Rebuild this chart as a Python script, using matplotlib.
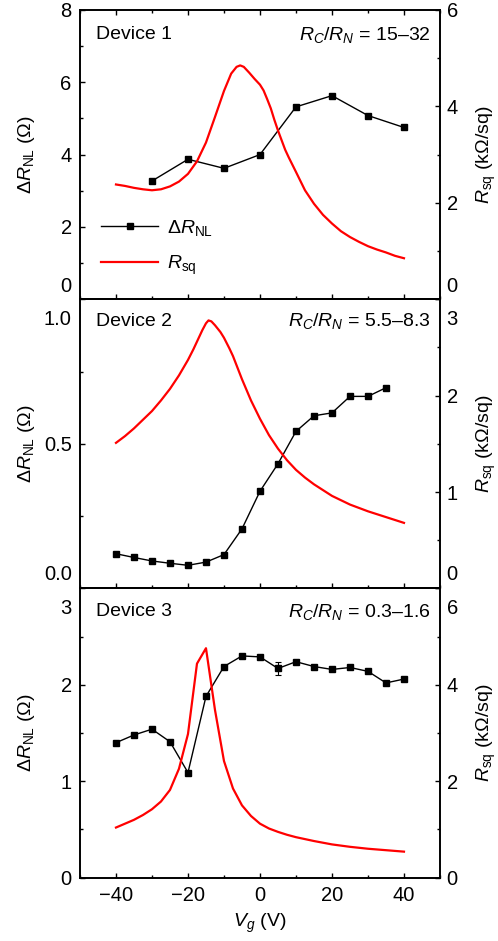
import numpy as np
import matplotlib
matplotlib.use("Agg")
import matplotlib.pyplot as plt
from matplotlib.ticker import MultipleLocator
from matplotlib.lines import Line2D

plt.rcParams["font.family"] = ["Liberation Sans", "DejaVu Sans"]
plt.rcParams["mathtext.fontset"] = "custom"
plt.rcParams["mathtext.rm"] = "Liberation Sans"
plt.rcParams["mathtext.it"] = "Liberation Sans:italic"
plt.rcParams["mathtext.bf"] = "Liberation Sans:bold"

# Device 1 : non-local signal and sheet resistance vs gate voltage
vg_nl1 = [-30, -20, -10, 0, 10, 20, 30, 40]
dR_nl1 = [3.27, 3.87, 3.62, 4.00, 5.32, 5.63, 5.08, 4.75]
vg_sq1 = [-40, -37.5, -35, -32.5, -30, -27.5, -25, -22.5, -20, -17.5, -15, -12.5, -10, -8,
          -6.5, -5.5, -4.5, -3, -1.5, 0, 1, 2, 3, 4, 5, 6, 7, 8, 9, 10, 12.5, 15, 17.5,
          20, 22.5, 25, 27.5, 30, 32.5, 35, 37.5, 40]
r_sq1 = [2.38, 2.35, 2.31, 2.28, 2.26, 2.28, 2.34, 2.44, 2.60, 2.86, 3.25, 3.78, 4.32, 4.68,
         4.82, 4.85, 4.82, 4.70, 4.57, 4.45, 4.33, 4.15, 3.96, 3.72, 3.50, 3.30, 3.10, 2.94,
         2.79, 2.64, 2.26, 1.98, 1.75, 1.57, 1.41, 1.29, 1.19, 1.10, 1.03, 0.97, 0.90, 0.85]

# Device 2
vg_nl2 = [-40, -35, -30, -25, -20, -15, -10, -5, 0, 5, 10, 15, 20, 25, 30, 35]
dR_nl2 = [0.120, 0.107, 0.095, 0.087, 0.080, 0.091, 0.117, 0.206, 0.336, 0.431, 0.543,
          0.597, 0.607, 0.664, 0.664, 0.694]
vg_sq2 = [-40, -37.5, -35, -32.5, -30, -27.5, -25, -22.5, -20, -18.5, -17, -16, -15, -14.3,
          -13.5, -12.5, -11, -10, -8.5, -7.5, -5, -2.5, 0, 2.5, 5, 7.5, 10, 12.5, 15, 20,
          25, 30, 35, 40]
r_sq2 = [1.51, 1.58, 1.66, 1.75, 1.84, 1.95, 2.07, 2.21, 2.37, 2.48, 2.60, 2.68, 2.75, 2.78,
         2.77, 2.73, 2.66, 2.60, 2.49, 2.41, 2.17, 1.95, 1.76, 1.59, 1.45, 1.33, 1.23, 1.15,
         1.08, 0.96, 0.87, 0.80, 0.74, 0.68]

# Device 3
vg_nl3 = [-40, -35, -30, -25, -20, -15, -10, -5, 0, 5, 10, 15, 20, 25, 30, 35, 40]
dR_nl3 = [1.40, 1.48, 1.54, 1.41, 1.09, 1.88, 2.19, 2.30, 2.29, 2.17, 2.24, 2.19, 2.16,
          2.18, 2.14, 2.02, 2.06]
dR_err3 = [0, 0, 0, 0, 0, 0, 0, 0, 0, 0.07, 0, 0, 0, 0, 0, 0, 0]
vg_sq3 = [-40, -37.5, -35, -32.5, -30, -27.5, -25, -22.5, -20, -17.5, -15, -12.5, -10, -7.5,
          -5, -2.5, 0, 2.5, 5, 7.5, 10, 15, 20, 25, 30, 35, 40]
r_sq3 = [1.04, 1.12, 1.20, 1.30, 1.42, 1.58, 1.82, 2.26, 2.98, 4.44, 4.76, 3.48, 2.42, 1.85,
         1.50, 1.28, 1.12, 1.02, 0.95, 0.89, 0.84, 0.76, 0.69, 0.64, 0.60, 0.57, 0.54]

devices = ["Device 1", "Device 2", "Device 3"]
ratios = ["15\u201332", "5.5\u20138.3", "0.3\u20131.6"]

FS = 14.5
TXT = 14


def style_axis(ax, side):
    ax.tick_params(axis="both", which="both", direction="in", labelsize=FS, width=1.0)
    ax.tick_params(which="major", length=3.8)
    ax.tick_params(which="minor", length=2.2)
    ax.tick_params(axis="y", pad=6 if side == "left" else 4.8)
    ax.tick_params(axis="x", pad=6)
    for sp in ax.spines.values():
        sp.set_linewidth(1.2)


def edge_label(ax, text, val, side, dy):
    # tick label nudged inward so neighbouring panels don't collide
    if side == "left":
        x, dx, ha = 0, -6, "right"
    else:
        x, dx, ha = 1, 4.8, "left"
    ax.annotate(text, xy=(x, val), xycoords=ax.get_yaxis_transform(),
                xytext=(dx, dy), textcoords="offset points",
                ha=ha, va="center", fontsize=FS)


def set_yaxis(ax, lim, major, minor, labels, side, top_dy, bot_dy):
    ax.set_ylim(*lim)
    ax.set_yticks(major)
    shown = list(labels)
    if top_dy is not None:
        shown[-1] = ""
        edge_label(ax, labels[-1], major[-1], side, top_dy)
    if bot_dy is not None:
        shown[0] = ""
        edge_label(ax, labels[0], major[0], side, bot_dy)
    ax.set_yticklabels(shown)
    ax.yaxis.set_minor_locator(MultipleLocator(minor))


fig = plt.figure(figsize=(4.98, 9.41), dpi=100)
gs = fig.add_gridspec(3, 1, left=0.1606, right=0.8835, top=0.9894, bottom=0.0673, hspace=0)
axes = [fig.add_subplot(gs[i]) for i in range(3)]

nl_x = [vg_nl1, vg_nl2, vg_nl3]
nl_y = [dR_nl1, dR_nl2, dR_nl3]
sq_x = [vg_sq1, vg_sq2, vg_sq3]
sq_y = [r_sq1, r_sq2, r_sq3]

left_cfg = [((0, 8), [0, 2, 4, 6, 8], 1, ["0", "2", "4", "6", "8"]),
            ((0, 1.0), [0, 0.5, 1.0], 0.25, ["0.0", "0.5", "1.0"]),
            ((0, 3), [0, 1, 2, 3], 0.5, ["0", "1", "2", "3"])]
right_cfg = [((0, 6), [0, 2, 4, 6], 1, ["0", "2", "4", "6"]),
             ((0, 3), [0, 1, 2, 3], 0.5, ["0", "1", "2", "3"]),
             ((0, 6), [0, 2, 4, 6], 1, ["0", "2", "4", "6"])]
top_shift = [None, -14.3, -14.3]
bot_shift = [9.0, 10.2, None]
text_y = [0.914, 0.924, 0.919]

for i, ax in enumerate(axes):
    ax2 = ax.twinx()
    ax.plot(nl_x[i], nl_y[i], color="black", lw=1.0, marker="s", ms=4.6, zorder=3)
    if i == 2:
        err = np.array(dR_err3)
        m = err > 0
        ax.errorbar(np.array(nl_x[i])[m], np.array(nl_y[i])[m], yerr=err[m], fmt="none",
                    ecolor="black", elinewidth=0.8, capsize=2.2, capthick=0.8)
    ax2.plot(sq_x[i], sq_y[i], color="#ff0000", lw=1.6)

    ax.set_xlim(-50, 50)
    ax.xaxis.set_major_locator(MultipleLocator(20))
    ax.xaxis.set_minor_locator(MultipleLocator(10))
    style_axis(ax, "left")
    style_axis(ax2, "right")
    ax.tick_params(axis="x", top=(i == 0), which="both")
    if i < 2:
        ax.tick_params(axis="x", labelbottom=False)

    lim, major, minor, labels = left_cfg[i]
    set_yaxis(ax, lim, major, minor, labels, "left", top_shift[i], bot_shift[i])
    lim, major, minor, labels = right_cfg[i]
    set_yaxis(ax2, lim, major, minor, labels, "right", top_shift[i], bot_shift[i])

    ax.set_ylabel("$\\Delta R_{\\mathrm{NL}}$ (\u03A9)", fontsize=TXT)
    ax.yaxis.set_label_coords(-0.119, 0.5)
    ax2.set_ylabel("$R_{\\mathrm{sq}}$ (k\u03A9/sq)", fontsize=TXT)
    ax2.yaxis.set_label_coords(1.096, 0.5)

    ax.text(0.045, text_y[i], devices[i], transform=ax.transAxes, fontsize=TXT,
            ha="left", va="center")
    ax.text(0.975, text_y[i], r"$R_C/R_N$ = " + ratios[i], transform=ax.transAxes,
            fontsize=TXT, ha="right", va="center")

    if i == 0:
        handles = [Line2D([], [], color="black", lw=1.0, marker="s", ms=4.6),
                   Line2D([], [], color="#ff0000", lw=1.6)]
        ax2.legend(handles, [r"$\Delta R_{\mathrm{NL}}$", r"$R_{\mathrm{sq}}$"],
                   loc="center left", bbox_to_anchor=(0.058, 0.18), frameon=False,
                   fontsize=TXT, handlelength=2.95, handletextpad=0.45,
                   labelspacing=0.8, borderpad=0, borderaxespad=0)

axes[2].set_xlabel(r"$V_g$ (V)", fontsize=TXT, labelpad=5)

plt.savefig("out.png", dpi=100)
